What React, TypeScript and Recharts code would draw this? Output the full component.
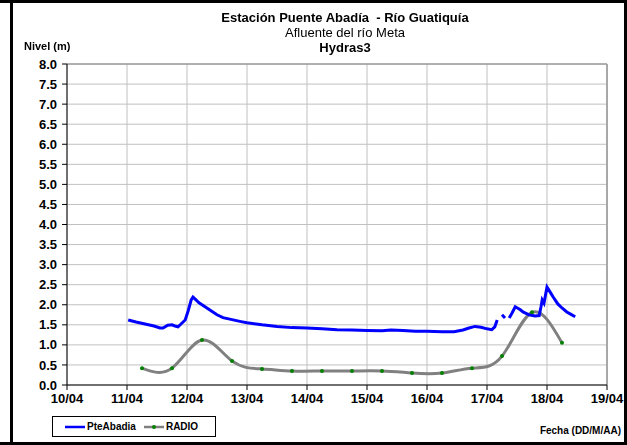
import { LineChart, Line, XAxis, YAxis, CartesianGrid, ReferenceLine } from "recharts"

// x values are days counted from 10/04 00:00
const dateTicks = ["10/04", "11/04", "12/04", "13/04", "14/04", "15/04", "16/04", "17/04", "18/04", "19/04"]
const levelTicks = [0, 0.5, 1, 1.5, 2, 2.5, 3, 3.5, 4, 4.5, 5, 5.5, 6, 6.5, 7, 7.5, 8]

const pteDays = [
  1.02, 1.15, 1.3, 1.45, 1.55, 1.6, 1.68, 1.75, 1.8, 1.85, 1.9, 1.97, 2.02, 2.07, 2.1, 2.15, 2.2, 2.3, 2.4, 2.5,
  2.6, 2.75, 2.9, 3.0, 3.25, 3.5, 3.75, 4.0, 4.25, 4.5, 4.75, 5.0, 5.25, 5.4, 5.6, 5.8, 6.0, 6.25, 6.45, 6.6,
  6.7, 6.8, 6.9, 7.0, 7.08, 7.13, 7.17, 7.21, 7.25, 7.3, 7.34, 7.37, 7.42, 7.47, 7.55, 7.6, 7.7, 7.8, 7.87, 7.9,
  7.92, 7.95, 8.0, 8.05, 8.1, 8.18, 8.25, 8.33, 8.4, 8.47,
]
const pteLevels = [
  1.62, 1.57, 1.52, 1.47, 1.42, 1.42, 1.49, 1.5, 1.47, 1.45, 1.52, 1.62, 1.85, 2.12, 2.19, 2.12, 2.05, 1.95, 1.85, 1.75,
  1.68, 1.63, 1.58, 1.55, 1.5, 1.46, 1.43, 1.42, 1.4, 1.38, 1.37, 1.36, 1.35, 1.37, 1.36, 1.34, 1.34, 1.33, 1.33, 1.37,
  1.42, 1.46, 1.44, 1.4, 1.38, 1.45, 1.62, null, 1.75, 1.67, null, 1.67, 1.8, 1.95, 1.88, 1.82, 1.75, 1.72, 1.73, 1.95,
  2.12, 2.04, 2.44, 2.32, 2.2, 2.02, 1.92, 1.82, 1.76, 1.7,
]

const radioDays = [1.25, 1.75, 2.25, 2.75, 3.25, 3.75, 4.25, 4.75, 5.25, 5.75, 6.25, 6.75, 7.25, 7.75, 8.25]
const radioLevels = [0.42, 0.42, 1.12, 0.6, 0.4, 0.35, 0.35, 0.35, 0.35, 0.3, 0.3, 0.42, 0.72, 1.81, 1.05]

const pteData = pteDays.map((d, i) => ({ d, v: pteLevels[i] }))
const radioData = radioDays.map((d, i) => ({ d, v: radioLevels[i] }))

const font = "'Liberation Sans', Arial, sans-serif"
const tickStyle = { fill: "#000", fontSize: 13, fontWeight: "bold", fontFamily: font }

export default function App() {
  return (
    <div style={{ position: "fixed", left: 0, top: 0, width: 627, height: 445, background: "#fff", fontFamily: font }}>
      <LineChart width={627} height={445} data={pteData} margin={{ top: 64, right: 20, bottom: 0, left: 0 }}>
        <CartesianGrid stroke="#c0c0c0" strokeWidth={1} />
        <XAxis
          dataKey="d"
          type="number"
          domain={[0, 9]}
          ticks={dateTicks.map((_, i) => i)}
          tickFormatter={(v: number) => dateTicks[v]}
          allowDuplicatedCategory={false}
          interval={0}
          stroke="#000"
          tick={tickStyle}
          tickSize={5}
          tickMargin={4}
          height={60}
        />
        <YAxis
          type="number"
          domain={[0, 8]}
          ticks={levelTicks}
          tickFormatter={(v: number) => v.toFixed(1)}
          interval={0}
          stroke="#000"
          tick={tickStyle}
          tickSize={5}
          tickMargin={5}
          width={67}
        />
        <ReferenceLine y={8} stroke="#808080" strokeWidth={1} />
        <ReferenceLine x={9} stroke="#a8a8a8" strokeWidth={2} />
        <Line
          data={radioData}
          dataKey="v"
          type="natural"
          stroke="#808080"
          strokeWidth={3}
          dot={{ r: 2, fill: "#008000", stroke: "#008000", strokeWidth: 0 }}
          isAnimationActive={false}
        />
        <Line
          data={pteData}
          dataKey="v"
          type="linear"
          stroke="#0000ff"
          strokeWidth={3}
          dot={false}
          connectNulls={false}
          isAnimationActive={false}
        />
      </LineChart>

      {/* frame */}
      <div style={{ position: "absolute", left: 0, top: 0, width: 627, height: 3, background: "#000" }} />
      <div style={{ position: "absolute", left: 10, top: 0, width: 3, height: 445, background: "#000" }} />
      <div style={{ position: "absolute", left: 624, top: 0, width: 3, height: 445, background: "#000" }} />
      <div style={{ position: "absolute", left: 0, top: 442, width: 627, height: 3, background: "#000" }} />

      {/* titles */}
      <div style={{ position: "absolute", left: 0, width: 690, top: 10, textAlign: "center", fontSize: 13, lineHeight: "15px" }}>
        <div style={{ fontWeight: "bold" }}>Estación Puente Abadía&nbsp; - Río Guatiquía</div>
        <div>Afluente del río Meta</div>
        <div style={{ fontWeight: "bold" }}>Hydras3</div>
      </div>
      <div style={{ position: "absolute", left: 24, top: 40, fontSize: 11, fontWeight: "bold" }}>Nivel (m)</div>
      <div style={{ position: "absolute", right: 6, top: 425, fontSize: 10, fontWeight: "bold" }}>Fecha (DD/M/AA)</div>

      {/* legend */}
      <div
        style={{
          position: "absolute", left: 52, top: 416, width: 162, height: 19, border: "1px solid #000",
          fontSize: 10, fontWeight: "bold", display: "flex", alignItems: "center",
        }}
      >
        <svg width={20} height={10} style={{ marginLeft: 12 }}>
          <line x1={0} y1={5} x2={20} y2={5} stroke="#0000ff" strokeWidth={2.5} />
        </svg>
        <span style={{ marginLeft: 2 }}>PteAbadia</span>
        <svg width={20} height={10} style={{ marginLeft: 8 }}>
          <line x1={0} y1={5} x2={20} y2={5} stroke="#808080" strokeWidth={2.5} />
          <circle cx={10} cy={5} r={2} fill="#008000" />
        </svg>
        <span style={{ marginLeft: 2 }}>RADIO</span>
      </div>
    </div>
  )
}
